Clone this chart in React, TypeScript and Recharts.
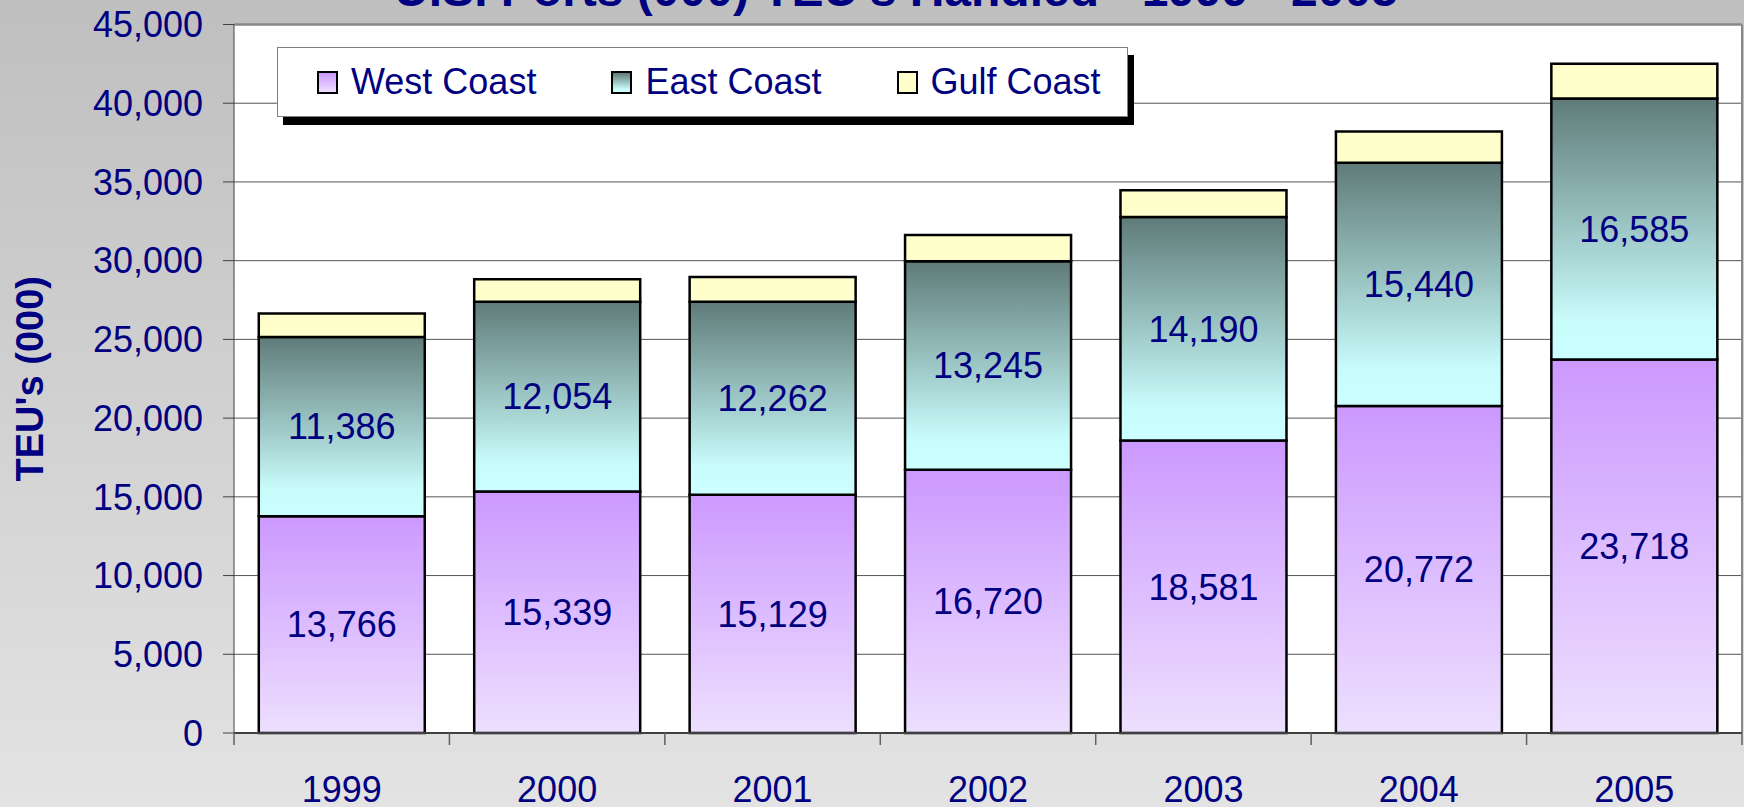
import React from 'react';
import {
  BarChart,
  Bar,
  XAxis,
  YAxis,
  CartesianGrid,
  Legend,
  LabelList,
  ReferenceLine,
} from 'recharts';

// U.S. Ports TEU's handled, stacked by coast (thousands)

const years = ['1999', '2000', '2001', '2002', '2003', '2004', '2005'];
const westCoast = [13766, 15339, 15129, 16720, 18581, 20772, 23718];
const eastCoast = [11386, 12054, 12262, 13245, 14190, 15440, 16585];
const gulfCoast = [1490, 1420, 1570, 1660, 1705, 1995, 2200];
const yTicks = [0, 5000, 10000, 15000, 20000, 25000, 30000, 35000, 40000, 45000];

const data = years.map((year, i) => ({
  year,
  west: westCoast[i],
  east: eastCoast[i],
  gulf: gulfCoast[i],
}));

const NAVY = '#000080';
const X_TICK_MARGIN = 43;
const legendOrder = ['west', 'east', 'gulf'];

const swatches: Record<string, string> = {
  west: 'linear-gradient(#cc99ff, #eddffe)',
  east: 'linear-gradient(#5f7b79, #c8fcfb 85%, #ccffff)',
  gulf: '#ffffcc',
};

const fmt = (v: any) => Number(v).toLocaleString('en-US');

function XTick(props: any) {
  const { x, y, payload, index } = props;
  const half = payload?.offset ?? 0;
  const axisY = y - X_TICK_MARGIN;
  return (
    <g>
      <line x1={x - half} x2={x - half} y1={axisY} y2={axisY + 12} stroke="#606060" strokeWidth={1.5} />
      {index === years.length - 1 && (
        <line x1={x + half} x2={x + half} y1={axisY} y2={axisY + 12} stroke="#606060" strokeWidth={1.5} />
      )}
      <text x={x} y={y} dy="0.71em" textAnchor="middle" fill={NAVY} fontSize={36}>
        {payload.value}
      </text>
    </g>
  );
}

function YLabel(props: any) {
  const vb = props.viewBox || { x: 0, y: 0, width: 0, height: 0 };
  const cx = vb.x + 43;
  const cy = vb.y + vb.height / 2;
  return (
    <text
      transform={`translate(${cx}, ${cy}) rotate(-90)`}
      textAnchor="middle"
      fill={NAVY}
      fontSize={38}
      fontWeight="bold"
    >
      TEU's (000)
    </text>
  );
}

function LegendBox(props: any) {
  const items = [...(props.payload || [])].sort(
    (a: any, b: any) => legendOrder.indexOf(a.dataKey) - legendOrder.indexOf(b.dataKey)
  );
  return (
    <div
      style={{
        width: 851,
        height: 70,
        boxSizing: 'border-box',
        background: '#fff',
        border: '1.5px solid #808080',
        boxShadow: '6px 8px 0 #000',
        display: 'flex',
        alignItems: 'center',
        paddingLeft: 39,
        whiteSpace: 'nowrap',
      }}
    >
      {items.map((item: any) => (
        <div key={item.dataKey} style={{ display: 'flex', alignItems: 'center', marginRight: 75, flexShrink: 0 }}>
          <span
            style={{
              display: 'inline-block',
              width: 21,
              height: 23,
              boxSizing: 'border-box',
              border: '2px solid #000',
              background: swatches[item.dataKey],
              marginRight: 13,
              flexShrink: 0,
            }}
          />
          <span style={{ color: NAVY, fontSize: 36, lineHeight: 1, whiteSpace: 'nowrap' }}>{item.value}</span>
        </div>
      ))}
    </div>
  );
}

export default function App() {
  return (
    <div
      style={{
        position: 'absolute',
        left: 0,
        top: 0,
        width: 1744,
        height: 807,
        overflow: 'hidden',
        background: 'linear-gradient(#bfbfbf, #e3e3e3)',
        fontFamily: '"Liberation Sans", Arial, sans-serif',
      }}
    >
      <svg width={1744} height={40} style={{ position: 'absolute', left: 0, top: 0 }}>
        <text x={896} y={6} textAnchor="middle" fill={NAVY} fontSize={48} fontWeight="bold">
          U.S. Ports (000) TEU's Handled - 1999 - 2005
        </text>
      </svg>
      <BarChart
        width={1744}
        height={807}
        data={data}
        margin={{ top: 24.5, right: 2, bottom: 0, left: 0 }}
        barCategoryGap="11.5%"
      >
        <defs>
          <linearGradient id="westGrad" x1="0" y1="0" x2="0" y2="1">
            <stop offset="0%" stopColor="#cc99ff" />
            <stop offset="100%" stopColor="#eddffe" />
          </linearGradient>
          <linearGradient id="eastGrad" x1="0" y1="0" x2="0" y2="1">
            <stop offset="0%" stopColor="#5f7b79" />
            <stop offset="85%" stopColor="#c8fcfb" />
            <stop offset="100%" stopColor="#ccffff" />
          </linearGradient>
        </defs>
        <CartesianGrid vertical={false} stroke="#555" strokeWidth={1} fill="#fff" />
        <XAxis
          dataKey="year"
          height={807 - 733}
          axisLine={{ stroke: '#404040', strokeWidth: 2 }}
          tickLine={false}
          tickSize={0}
          tickMargin={X_TICK_MARGIN}
          tick={<XTick />}
          interval={0}
        />
        <YAxis
          width={234}
          domain={[0, 45000]}
          ticks={yTicks}
          tickFormatter={fmt}
          stroke="#404040"
          tickSize={11}
          tickMargin={20}
          tick={{ fill: NAVY, fontSize: 36 }}
          label={{ content: (p: any) => <YLabel {...p} /> }}
        />
        <ReferenceLine y={45000} stroke="#888" strokeWidth={2.5} />
        <ReferenceLine x="2005" position="end" stroke="#888" strokeWidth={2} />
        <Legend
          layout="horizontal"
          verticalAlign="middle"
          align="center"
          wrapperStyle={{ left: 277, top: 47, width: 851, height: 70 }}
          content={<LegendBox />}
        />
        <Bar dataKey="west" name="West Coast" stackId="a" fill="url(#westGrad)" stroke="#000" strokeWidth={2.5} isAnimationActive={false}>
          <LabelList dataKey="west" position="center" fill={NAVY} fontSize={36} formatter={fmt} />
        </Bar>
        <Bar dataKey="east" name="East Coast" stackId="a" fill="url(#eastGrad)" stroke="#000" strokeWidth={2.5} isAnimationActive={false}>
          <LabelList dataKey="east" position="center" fill={NAVY} fontSize={36} formatter={fmt} />
        </Bar>
        <Bar dataKey="gulf" name="Gulf Coast" stackId="a" fill="#ffffcc" stroke="#000" strokeWidth={2.5} isAnimationActive={false} />
      </BarChart>
    </div>
  );
}
